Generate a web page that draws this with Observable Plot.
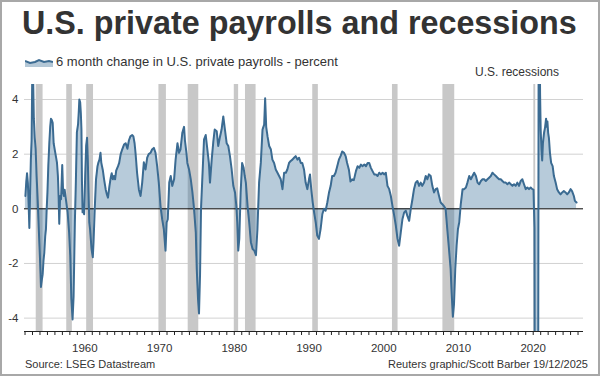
<!DOCTYPE html>
<html><head><meta charset="utf-8">
<script src="https://cdn.jsdelivr.net/npm/d3@7"></script>
<script src="https://cdn.jsdelivr.net/npm/@observablehq/plot@0.6"></script>
<style>
body{margin:0;background:#fff;font-family:"Liberation Sans",Arial,sans-serif;}
#wrap{position:relative;width:600px;height:376px;overflow:hidden;background:#fff;}
#frame{position:absolute;left:0;top:0;width:600px;height:376px;box-sizing:border-box;border:2px solid #a8a8a8;pointer-events:none;z-index:5;}
#title{position:absolute;left:22px;top:5px;font-size:32.3px;font-weight:bold;color:#333;line-height:36px;white-space:nowrap;z-index:3;}
#legend{position:absolute;left:25px;top:54px;font-size:13px;line-height:16px;color:#333;white-space:nowrap;z-index:3;display:flex;align-items:center;}
#legend svg{margin-right:3px;}
#rec{position:absolute;left:475px;top:65px;font-size:12px;line-height:14px;color:#333;white-space:nowrap;z-index:3;}
#chart{position:absolute;left:0;top:70px;z-index:2;}
.foot{position:absolute;top:358px;font-size:11px;line-height:13px;color:#333;white-space:nowrap;z-index:3;}
</style></head>
<body>
<div id="wrap">
  <div id="title">U.S. private payrolls and recessions</div>
  <div id="legend"><svg width="28" height="10" viewBox="0 0 28 10"><path d="M0,4 L5,6 L10,5 L14,3 L19,5 L24,4 L28,5 L28,10 L0,10 Z" fill="#b3c7d6"/><path d="M0,4 L5,6 L10,5 L14,3 L19,5 L24,4 L28,5" fill="none" stroke="#3b6b92" stroke-width="2"/></svg><span>6 month change in U.S. private payrolls - percent</span></div>
  <div id="rec">U.S. recessions</div>
  <div id="chart"></div>
  <div class="foot" style="left:25px">Source: LSEG Datastream</div>
  <div class="foot" style="right:12px">Reuters graphic/Scott Barber 19/12/2025</div>
  <div id="frame"></div>
</div>
<script>
// 6-month % change in U.S. private payrolls, by period
const years1950s = [1952.05,1952.17,1952.27,1952.38,1952.48,1952.58,1952.68,1952.78,1952.88,1952.98,1953.08,1953.18,1953.3,1953.42,1953.55,1953.7,1953.85,1954.0,1954.13,1954.25,1954.36,1954.47,1954.58,1954.7,1954.8,1954.9,1955.0,1955.12,1955.25,1955.37,1955.47,1955.58,1955.7,1955.83,1956.05,1956.27,1956.4,1956.5,1956.58,1956.7,1956.82,1956.98,1957.1,1957.2,1957.3,1957.47,1957.7,1957.9,1958.05,1958.2,1958.36,1958.5,1958.6,1958.67,1958.8,1958.94,1959.1,1959.2,1959.27,1959.38,1959.47,1959.55,1959.62,1959.7,1959.8,1959.91];
const pct1950s = [0.47,1.0,1.3,0.95,0.2,-0.7,0.6,1.8,2.5,5.2,4.8,3.3,2.6,2.2,1.2,0.3,-0.8,-1.8,-2.86,-2.6,-2.4,-1.9,-1.6,-1.0,-0.74,0.0,0.6,1.6,2.4,3.0,3.3,3.25,3.15,2.4,2.05,1.7,1.2,0.4,-0.55,0.47,0.35,1.6,0.6,0.47,0.7,0.35,-0.13,-0.86,-1.7,-3.3,-4.05,-3.2,-1.6,-0.5,0.96,2.8,3.1,3.6,4.0,3.9,3.5,2.9,1.0,-0.13,-0.05,-0.2];
const years1960s = [1960.05,1960.18,1960.3,1960.4,1960.5,1960.6,1960.7,1960.8,1960.9,1961.07,1961.17,1961.33,1961.5,1961.7,1961.83,1961.96,1962.1,1962.2,1962.3,1962.42,1962.58,1962.8,1962.95,1963.1,1963.3,1963.47,1963.6,1963.75,1963.9,1964.05,1964.2,1964.45,1964.6,1964.8,1965.0,1965.25,1965.47,1965.7,1965.9,1966.1,1966.35,1966.5,1966.66,1966.8,1967.0,1967.24,1967.46,1967.68,1967.9,1968.13,1968.35,1968.55,1968.8,1969.0,1969.24,1969.46,1969.68,1969.9];
const pct1960s = [1.2,2.3,2.6,1.8,0.6,-0.5,-0.74,-1.1,-1.47,-1.77,-1.2,0.0,1.08,1.56,1.7,1.8,2.05,1.7,1.56,1.4,1.08,0.7,0.53,0.41,0.84,1.14,1.3,1.08,1.2,1.08,1.4,1.56,1.68,2.0,2.17,2.35,2.4,2.2,2.5,2.65,2.7,2.65,2.4,2.0,1.3,0.7,0.47,0.96,1.7,1.44,1.87,2.0,2.05,2.17,2.23,2.05,1.56,0.96];
const years1970s = [1970.13,1970.35,1970.57,1970.8,1970.95,1971.1,1971.3,1971.5,1971.7,1971.95,1972.15,1972.4,1972.6,1972.8,1973.05,1973.28,1973.4,1973.6,1973.72,1973.95,1974.18,1974.4,1974.6,1974.85,1974.98,1975.15,1975.28,1975.42,1975.55,1975.72,1975.95,1976.18,1976.4,1976.6,1976.75,1976.98,1977.2,1977.38,1977.65,1977.85,1978.1,1978.3,1978.53,1978.75,1978.98,1979.2,1979.42,1979.65,1979.87];
const pct1970s = [0.1,-0.38,-0.74,-1.53,-0.5,-0.38,0.96,1.2,0.84,1.08,1.8,2.4,2.05,2.17,2.78,3.0,2.5,2.05,1.68,1.44,1.08,0.6,0.05,-0.86,-2.2,-3.3,-3.83,-2.4,0.0,1.08,2.53,2.7,2.17,1.68,0.96,1.8,2.47,2.9,2.84,2.3,2.65,2.9,3.38,2.9,2.4,2.3,1.93,1.44,0.84];
const years1980s = [1980.1,1980.28,1980.4,1980.53,1980.67,1980.85,1981.05,1981.25,1981.4,1981.55,1981.78,1982.0,1982.22,1982.45,1982.68,1982.9,1983.1,1983.32,1983.55,1983.78,1984.0,1984.13,1984.27,1984.45,1984.67,1984.9,1985.1,1985.33,1985.55,1985.78,1986.0,1986.22,1986.45,1986.67,1986.9,1987.1,1987.33,1987.55,1987.78,1988.0,1988.22,1988.45,1988.67,1988.9,1989.1,1989.33,1989.55,1989.78];
const pct1980s = [0.6,0.1,-0.5,-1.53,-1.1,0.6,1.68,1.5,1.2,0.96,0.1,-0.5,-1.22,-1.47,-1.53,-1.7,-0.74,0.96,1.68,2.9,3.08,4.05,3.0,2.65,2.3,2.17,1.8,1.68,1.44,1.32,1.2,1.08,0.72,1.32,1.32,1.44,1.68,1.75,1.8,1.87,1.93,1.8,1.87,1.68,1.68,1.44,0.96,0.72];
const years1990s = [1990.0,1990.13,1990.3,1990.5,1990.68,1990.9,1991.1,1991.33,1991.55,1991.78,1992.0,1992.22,1992.45,1992.68,1992.9,1993.1,1993.33,1993.55,1993.78,1994.0,1994.22,1994.45,1994.68,1994.9,1995.1,1995.33,1995.55,1995.78,1996.0,1996.28,1996.5,1996.73,1996.95,1997.15,1997.4,1997.62,1997.85,1998.05,1998.28,1998.5,1998.73,1998.95,1999.17,1999.4,1999.62,1999.85];
const pct1990s = [1.08,1.26,0.72,0.23,-0.13,-0.5,-0.98,-1.1,-0.74,-0.2,0.0,-0.07,0.23,0.6,0.84,1.2,1.2,1.32,1.56,1.8,1.93,2.1,2.05,1.93,1.68,1.44,1.0,1.08,1.05,1.38,1.56,1.5,1.62,1.56,1.62,1.56,1.68,1.68,1.5,1.38,1.26,1.26,1.2,1.32,1.26,1.32];
const years2000s = [2000.05,2000.28,2000.5,2000.73,2000.95,2001.17,2001.4,2001.62,2001.84,2002.06,2002.28,2002.5,2002.73,2002.95,2003.15,2003.4,2003.62,2003.84,2004.05,2004.28,2004.5,2004.73,2004.95,2005.15,2005.4,2005.62,2005.84,2006.05,2006.28,2006.5,2006.73,2006.95,2007.15,2007.4,2007.62,2007.84,2008.05,2008.28,2008.5,2008.73,2008.95,2009.08,2009.25,2009.4,2009.57,2009.75,2009.93];
const pct2000s = [1.26,1.32,0.84,0.72,0.47,0.1,-0.25,-0.62,-1.1,-1.35,-0.86,-0.38,-0.13,-0.07,-0.25,-0.44,0.0,0.35,0.72,0.96,1.02,0.84,0.96,0.84,0.96,1.2,1.08,1.26,1.2,0.84,0.6,0.72,0.75,0.47,0.23,0.17,0.1,0.0,-0.74,-1.47,-2.2,-3.04,-3.95,-3.5,-2.2,-1.35,-0.74];
const years2010s = [2010.1,2010.3,2010.55,2010.77,2011.0,2011.2,2011.44,2011.66,2011.88,2012.1,2012.33,2012.55,2012.77,2013.0,2013.22,2013.44,2013.66,2013.88,2014.1,2014.33,2014.55,2014.77,2015.0,2015.22,2015.44,2015.66,2015.88,2016.1,2016.33,2016.55,2016.77,2017.0,2017.22,2017.44,2017.66,2017.88,2018.1,2018.33,2018.55,2018.77,2019.0,2019.22,2019.44,2019.66,2019.88];
const pct2010s = [-0.5,0.15,0.72,0.72,0.78,0.96,1.2,1.08,1.2,1.32,1.2,0.96,0.9,1.02,1.08,1.08,1.02,1.08,1.14,1.2,1.32,1.26,1.2,1.14,1.08,1.08,1.02,0.96,0.96,0.9,0.96,0.9,0.84,0.9,0.84,0.96,0.84,1.02,1.08,0.9,0.72,0.78,0.72,0.78,0.72];
const years2020s = [2020.04,2020.17,2020.25,2020.33,2020.42,2020.5,2020.58,2020.67,2020.75,2020.83,2020.92,2021.0,2021.1,2021.2,2021.3,2021.45,2021.6,2021.72,2021.8,2021.9,2022.0,2022.1,2022.24,2022.4,2022.6,2022.77,2023.0,2023.2,2023.44,2023.66,2023.88,2024.1,2024.33,2024.55,2024.77,2025.0,2025.2,2025.44,2025.58,2025.8];
const pct2020s = [0.7,-0.7,-16,-13,-9,-7.5,-6.5,-5.5,10.8,8.1,4.2,2.9,2.2,1.77,2.4,2.78,3.0,3.3,3.0,3.2,2.78,2.6,2.05,1.68,1.56,1.2,0.96,0.72,0.6,0.53,0.6,0.65,0.6,0.53,0.6,0.72,0.65,0.47,0.29,0.23];

// NBER recessions (start month, end month)
const recessionStart = ["1953-07","1957-08","1960-04","1969-12","1973-11","1980-01","1981-07","1990-07","2001-03","2007-12","2020-02"];
const recessionEnd   = ["1954-05","1958-04","1961-02","1970-11","1975-03","1980-07","1982-11","1991-03","2001-11","2009-06","2020-04"];

const yTicks = [-4, -2, 0, 2, 4];
const decadeLabels = [1960, 1970, 1980, 1990, 2000, 2010, 2020];
const firstTickYear = 1952, lastTickYear = 2026;

const allYears = [].concat(years1950s, years1960s, years1970s, years1980s, years1990s, years2000s, years2010s, years2020s);
const allPct = [].concat(pct1950s, pct1960s, pct1970s, pct1980s, pct1990s, pct2000s, pct2010s, pct2020s);
const data = allYears.map((t, i) => ({t, v: allPct[i]}));

const toDec = (s, end) => { const [y, m] = s.split("-").map(Number); return y + (end ? m : m - 1) / 12; };
const recessions = recessionStart.map((s, i) => ({start: toDec(s, false), end: toDec(recessionEnd[i], true)}));

const yearTicks = d3.range(firstTickYear, lastTickYear + 1);
const xDomain = [1951.93, 2026.73];
const yDomain = [-4.49, 4.55];

const plot = Plot.plot({
  width: 600,
  height: 290,
  marginTop: 14,
  marginBottom: 29,
  marginLeft: 24,
  marginRight: 17,
  style: {fontFamily: "'Liberation Sans', Arial, sans-serif", fontSize: "11.5px", color: "#333", background: "transparent", overflow: "visible"},
  x: {type: "linear", domain: xDomain, label: null},
  y: {domain: yDomain, label: null},
  marks: [
    Plot.gridY(yTicks.filter(d => d !== 0), {stroke: "#d2d2d2", strokeOpacity: 1}),
    Plot.rect(recessions, {x1: "start", x2: "end", fill: "#c8c8c8"}),
    Plot.areaY(data, {x: "t", y: "v", fill: "#4a7ca3", fillOpacity: 0.4, clip: true}),
    Plot.ruleY([0], {stroke: "#000", strokeWidth: 1}),
    Plot.lineY(data, {x: "t", y: "v", stroke: "#3b6b92", strokeWidth: 2, clip: true}),
    Plot.ruleY([yDomain[0]], {stroke: "#222", strokeWidth: 1}),
    Plot.axisX({ticks: yearTicks, tickSize: 4, tickFormat: () => "", stroke: "#222", label: null}),
    Plot.axisX({ticks: decadeLabels, tickSize: 0, tickPadding: 12, tickFormat: d => String(d), fill: "#333", label: null}),
    Plot.axisY({ticks: yTicks, tickSize: 0, tickPadding: 6, tickFormat: d => String(d), fill: "#333", label: null})
  ]
});
document.getElementById("chart").appendChild(plot);
</script>
</body></html>
